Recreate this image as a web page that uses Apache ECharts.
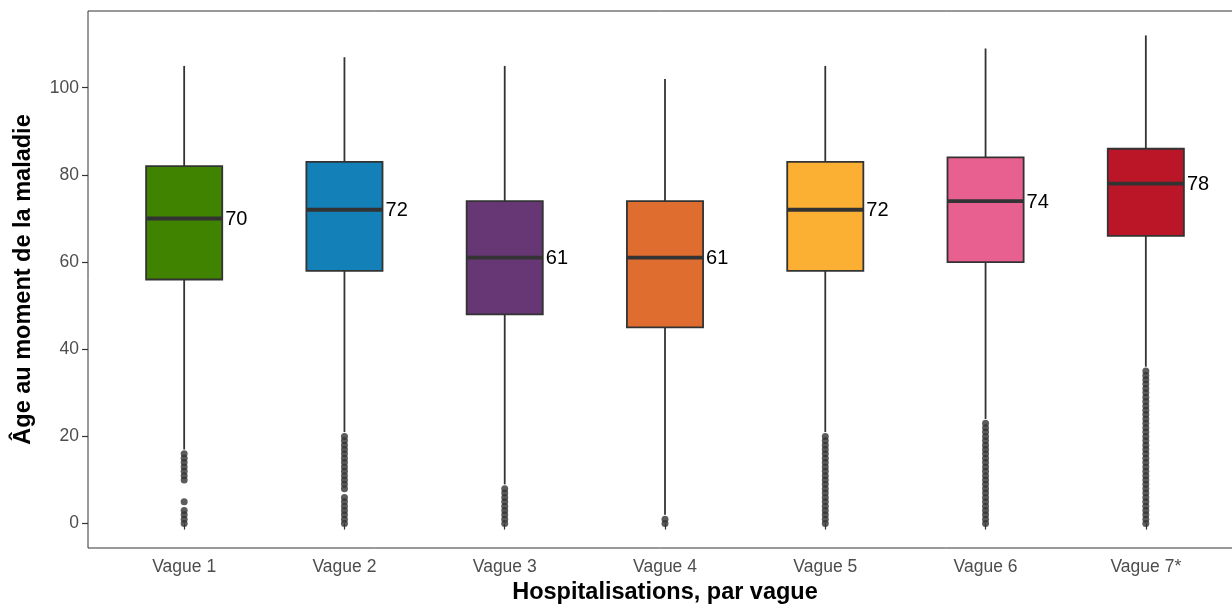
<!DOCTYPE html>
<html>
<head>
<meta charset="utf-8">
<script src="https://cdn.jsdelivr.net/npm/echarts@6/dist/echarts.min.js"></script>
<style>html,body{margin:0;padding:0;background:#fff}#c{width:1232px;height:604px}</style>
</head>
<body>
<div id="c"></div>
<script>
const categories = ['Vague 1','Vague 2','Vague 3','Vague 4','Vague 5','Vague 6','Vague 7*'];
const whiskerLow = [17, 21, 9, 2, 21, 24, 36];
const q1 = [56, 58, 48, 45, 58, 60, 66];
const median = [70, 72, 61, 61, 72, 74, 78];
const q3 = [82, 83, 74, 74, 83, 84, 86];
const whiskerHigh = [105, 107, 105, 102, 105, 109, 112];
const colors = ['#3f8300','#1380b8','#673775','#df6d2f','#fbb034','#e8608f','#bb1628'];
const yTicks = [0, 20, 40, 60, 80, 100];
const outliers = [
  [16,15,14,13,12,11,10,5,3,2,1,0],
  [20,19,18,17,16,15,14,13,12,11,10,9,8,6,5,4,3,2,1,0],
  [8,7,6,5,4,3,2,1,0],
  [1,0],
  [20,19,18,17,16,15,14,13,12,11,10,9,8,7,6,5,4,3,2,1,0],
  [23,22,21,20,19,18,17,16,15,14,13,12,11,10,9,8,7,6,5,4,3,2,1,0],
  [35,34,33,32,31,30,29,28,27,26,25,24,23,22,21,20,19,18,17,16,15,14,13,12,11,10,9,8,7,6,5,4,3,2,1,0]
];

const boxData = categories.map((c, i) => [i + 1, whiskerLow[i], q1[i], median[i], q3[i], whiskerHigh[i], i]);
const outlierData = [];
outliers.forEach((arr, i) => arr.forEach(v => outlierData.push([i + 1, v])));

const FONT = 'Liberation Sans, Arial, sans-serif';
const chart = echarts.init(document.getElementById('c'));
chart.setOption({
  animation: false,
  backgroundColor: '#fff',
  grid: { left: 88, right: -10, top: 11, bottom: 56, outerBoundsMode: 'none', containLabel: false,
          show: true, borderColor: '#333', borderWidth: 1, backgroundColor: 'transparent' },
  xAxis: {
    type: 'value', min: 0.4, max: 7.6,
    name: 'Hospitalisations, par vague', nameLocation: 'middle', nameGap: 33,
    nameTextStyle: { fontFamily: FONT, fontSize: 23.5, fontWeight: 'bold', color: '#000' },
    axisLine: { show: false },
    axisTick: { show: true, length: 6, lineStyle: { color: '#333', width: 1.2 }, customValues: [1,2,3,4,5,6,7] },
    axisLabel: { customValues: [1,2,3,4,5,6,7], formatter: v => categories[Math.round(v) - 1] || '', fontFamily: FONT, fontSize: 17.5, color: '#4d4d4d', margin: 10 },
    splitLine: { show: false }
  },
  yAxis: {
    type: 'value', min: -5.6, max: 117.6,
    name: 'Âge au moment de la maladie', nameLocation: 'middle', nameGap: 52,
    nameTextStyle: { fontFamily: FONT, fontSize: 23.5, fontWeight: 'bold', color: '#000' },
    axisLine: { show: false },
    axisTick: { show: true, length: 6, lineStyle: { color: '#333', width: 1.2 }, customValues: yTicks },
    axisLabel: { customValues: yTicks, fontFamily: FONT, fontSize: 17.5, color: '#4d4d4d', margin: 9 },
    splitLine: { show: false }
  },
  series: [
    {
      type: 'custom',
      data: boxData,
      z: 2,
      renderItem: function (params, api) {
        const x = api.value(0);
        const idx = api.value(6);
        const halfW = api.size([0.475, 0])[0] / 2;
        const pMin = api.coord([x, api.value(1)]);
        const pQ1 = api.coord([x, api.value(2)]);
        const pMed = api.coord([x, api.value(3)]);
        const pQ3 = api.coord([x, api.value(4)]);
        const pMax = api.coord([x, api.value(5)]);
        const lineStyle = { stroke: '#333', lineWidth: 1.8 };
        return {
          type: 'group',
          children: [
            { type: 'line', shape: { x1: pMin[0], y1: pMin[1], x2: pQ1[0], y2: pQ1[1] }, style: lineStyle },
            { type: 'line', shape: { x1: pQ3[0], y1: pQ3[1], x2: pMax[0], y2: pMax[1] }, style: lineStyle },
            { type: 'rect', shape: { x: pQ3[0] - halfW, y: pQ3[1], width: 2 * halfW, height: pQ1[1] - pQ3[1] },
              style: { fill: colors[idx], stroke: '#333', lineWidth: 1.8 } },
            { type: 'line', shape: { x1: pMed[0] - halfW, y1: pMed[1], x2: pMed[0] + halfW, y2: pMed[1] },
              style: { stroke: '#333', lineWidth: 3.8 } },
            { type: 'text', x: pMed[0] + halfW + 3, y: pMed[1] + 1,
              style: { text: String(api.value(3)), fill: '#000', font: '20px ' + FONT, verticalAlign: 'middle', align: 'left' } }
          ]
        };
      }
    },
    {
      type: 'scatter',
      data: outlierData,
      symbol: 'circle',
      symbolSize: 7,
      itemStyle: { color: '#333' },
      z: 3
    }
  ]
});
</script>
</body>
</html>
